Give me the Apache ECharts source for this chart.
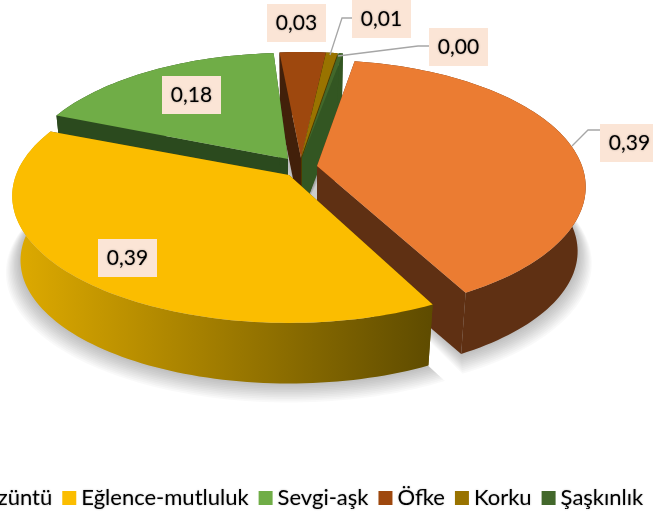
<!DOCTYPE html>
<html><head><meta charset="utf-8">
<style>html,body{margin:0;padding:0;background:#fff;overflow:hidden}#c{width:653px;height:513px}</style>
<script src="https://cdn.jsdelivr.net/npm/echarts@6/dist/echarts.min.js"></script>
</head><body><div id="c"></div>
<script>
const categories = ['Üzüntü','Eğlence-mutluluk','Sevgi-aşk','Öfke','Korku','Şaşkınlık'];
const values = [0.394,0.385,0.179,0.032,0.008,0.003];

const topColors  = ['#eb7c32','#fbbd00','#70ad47','#9e480e','#997300','#43682b'];
const wallColors = ['#5f3013',null,'#2b4a1e','#42200a','#4e3a00','#335622'];
const cutColors  = ['#5f3013','#5e4b00','#2b4a1e','#42200a','#4e3a00','#335622'];
const startAngle = 9.5;
const angleGap = [0,2,0,-1.7,0,0];
const apex = [[317,166],[289,175],[288,159],[301,158],[301,158],[302,158]];
const radiusX = [265,273,265,270,270,270];
const radiusY = 123.5, persp = 0.165, shrink = 0.97;
const depths = [65,65,65,60,60,55];
const paintOrder = [3,4,5,2,0,1];
const labelBoxes = [[600,124],[98,239],[162,76],[267,4],[352,0],[429,28]];
const leaders = [[[572,146],[588,130],[600,130]],null,null,null,
  [[330,55],[342,18],[352,18]],[[338,56],[418,46],[429,46]]];
const boxW = 59, boxH = 38;
const font = '21px Lato';
const shadowLayers = 11;

function spans(){
  let a = startAngle;
  return values.map((v,i)=>{a+=angleGap[i]; const s=a; a+=v*360; return [s,a];});
}
function pt(i,deg,r){
  const t=deg*Math.PI/180, px=Math.sin(t)*r, py=Math.cos(t)*r, s=1/(1+persp*py);
  return [apex[i][0]+radiusX[i]*px*s, apex[i][1]-radiusY*py*s];
}
function low(i,p){
  return [apex[i][0]+(p[0]-apex[i][0])*shrink, apex[i][1]+(p[1]-apex[i][1])*shrink+depths[i]];
}
function arc(i,a,b,r){
  const n=Math.max(2,Math.ceil(Math.abs(b-a)/1.5)), out=[];
  for(let k=0;k<=n;k++) out.push(pt(i,a+(b-a)*k/n,r||1));
  return out;
}
function sliceItem(i,val){
  const a0=spans()[i][0], a1=a0+val*360;
  const rim=arc(i,a0,a1), lowRim=rim.map(p=>low(i,p));
  const c=apex[i], cl=low(i,c);
  const wallFill = wallColors[i] || new echarts.graphic.LinearGradient(0,0,1,0,[{offset:0,color:'#dfab00'},{offset:1,color:'#5e4b00'}]);
  const n=rim.length-1;
  return {type:'group',children:[
    {type:'polygon',shape:{points:[c,rim[0],lowRim[0],cl]},style:{fill:cutColors[i]}},
    {type:'polygon',shape:{points:[c,rim[n],lowRim[n],cl]},style:{fill:cutColors[i]}},
    {type:'polygon',shape:{points:rim.concat(lowRim.slice().reverse())},style:{fill:wallFill}},
    {type:'polygon',shape:{points:[c].concat(rim)},style:{fill:topColors[i]}}
  ]};
}
function shadowItem(params,api){
  const i=api.value(0), sp=spans()[i], kids=[];
  for(let k=shadowLayers;k>=0;k--){
    const r=1+0.0048*k, dy=0.9*k;
    const rim=arc(i,sp[0]-0.15*k,sp[1]+0.15*k,r).map(p=>{const q=low(i,p);return [q[0],q[1]+dy];});
    kids.push({type:'polygon',shape:{points:[low(i,apex[i])].concat(rim)},style:{fill:'rgba(0,0,0,0.024)'}});
  }
  kids.push({type:'polygon',shape:{points:[apex[2],apex[0],low(0,apex[0]),low(1,apex[1])]},style:{fill:'rgba(200,200,200,0.35)'}});
  return {type:'group',children:kids};
}
function labelItem(params,api){
  const i=api.value(0), v=api.value(1), b=labelBoxes[i], kids=[];
  if(leaders[i]) kids.push({type:'polyline',shape:{points:leaders[i]},style:{fill:null,stroke:'#a6a6a6',lineWidth:1.3}});
  kids.push({type:'rect',shape:{x:b[0],y:b[1],width:boxW,height:boxH},style:{fill:'#fbe5d6'}});
  kids.push({type:'text',style:{text:v.toFixed(2).replace('.',','),x:b[0]+boxW/2,y:b[1]+boxH/2,font:font,fill:'#000',align:'center',verticalAlign:'middle',textShadowBlur:2,textShadowColor:'rgba(0,0,0,0.35)'}});
  return {type:'group',children:kids};
}

const series = categories.map((name,i)=>({
  type:'custom',name,coordinateSystem:'none',silent:true,animation:false,
  z:10+paintOrder.indexOf(i),clip:false,
  itemStyle:{color:topColors[i]},
  data:[[values[i],i]],
  renderItem:(p,api)=>sliceItem(i,api.value(0))
}));
series.push({type:'custom',name:'shadow',coordinateSystem:'none',silent:true,animation:false,z:2,
  data:values.map((v,i)=>[i,v]),renderItem:shadowItem});
series.push({type:'custom',name:'labels',coordinateSystem:'none',silent:true,animation:false,z:30,
  data:values.map((v,i)=>[i,v]),renderItem:labelItem});

const chart=echarts.init(document.getElementById('c'),null,{renderer:'canvas'});
chart.setOption({
  animation:false,backgroundColor:'#fff',
  legend:{data:categories,left:-37,top:487,width:740,padding:0,orient:'horizontal',itemWidth:14,itemHeight:14,itemGap:10,
    icon:'rect',selectedMode:false,
    textStyle:{fontFamily:'Lato',fontSize:22,color:'#000',textShadowBlur:2,textShadowColor:'rgba(0,0,0,0.3)'}},
  series
});
</script></body></html>
